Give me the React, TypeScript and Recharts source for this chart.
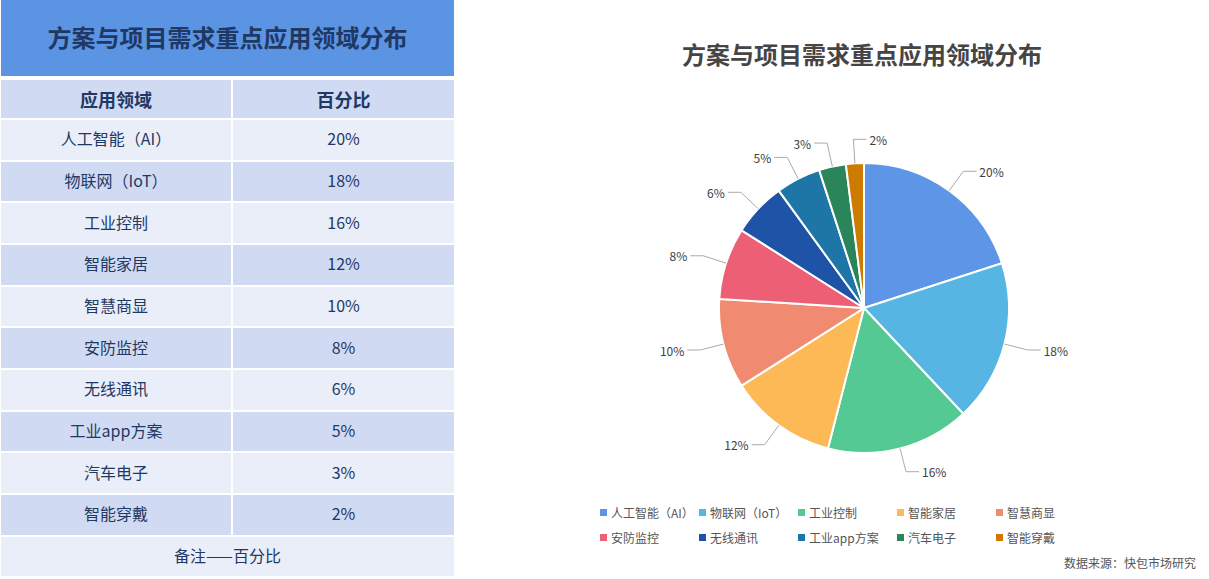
import React from "react";
import { PieChart, Pie, Cell, Legend } from "recharts";

const TITLE = "方案与项目需求重点应用领域分布";
const TABLE_HEAD = ["应用领域", "百分比"];
const FOOTNOTE = "备注——百分比";
const SOURCE = "数据来源：快包市场研究";

const FIELDS = [
  "人工智能（AI）",
  "物联网（IoT）",
  "工业控制",
  "智能家居",
  "智慧商显",
  "安防监控",
  "无线通讯",
  "工业app方案",
  "汽车电子",
  "智能穿戴",
];
const SHARES = [20, 18, 16, 12, 10, 8, 6, 5, 3, 2];
const COLORS = [
  "#5d96e6",
  "#57b5e4",
  "#55c994",
  "#fdb955",
  "#f08a71",
  "#ec5f74",
  "#1e53a8",
  "#1d76a6",
  "#2a855a",
  "#cc7a00",
];

const FONT = '"Noto Sans CJK SC", "Noto Sans", sans-serif';
const NAVY = "#1f3864";
const ROW_LIGHT = "#e9eef9";
const ROW_DARK = "#d0dbf3";
const RAD = Math.PI / 180;

const pieData = FIELDS.map((name, i) => ({ name, value: SHARES[i] }));

function labelGeom(p: any) {
  const a = p.midAngle;
  const cos = Math.cos(-a * RAD);
  const sin = Math.sin(-a * RAD);
  const right = cos > -0.1;
  const r0 = p.outerRadius;
  const r1 = p.outerRadius + 24;
  const x0 = p.cx + r0 * cos;
  const y0 = p.cy + r0 * sin;
  const x1 = p.cx + r1 * cos;
  const y1 = p.cy + r1 * sin;
  const x2 = x1 + (right ? 13 : -13);
  return { x0, y0, x1, y1, x2, right };
}

function renderLabelLine(p: any) {
  const g = labelGeom(p);
  return (
    <path
      d={`M${g.x0},${g.y0}L${g.x1},${g.y1}L${g.x2},${g.y1}`}
      stroke="#aaaaaa"
      strokeWidth={1}
      fill="none"
    />
  );
}

function renderLabel(p: any) {
  const g = labelGeom(p);
  return (
    <text
      x={g.x2 + (g.right ? 3 : -3)}
      y={g.y1}
      textAnchor={g.right ? "start" : "end"}
      dominantBaseline="central"
      fill="#404040"
      fontSize={12}
      fontFamily={FONT}
    >
      {`${p.value}%`}
    </text>
  );
}

function renderLegend(props: any) {
  const payload = [...(props.payload || [])].sort(
    (a: any, b: any) => FIELDS.indexOf(a.value) - FIELDS.indexOf(b.value)
  );
  return (
    <div
      style={{
        display: "grid",
        gridTemplateColumns: "repeat(5, 99px)",
        rowGap: 8,
        fontFamily: FONT,
        fontSize: 12,
        color: "#555555",
      }}
    >
      {payload.map((item: any) => (
        <div key={item.value} style={{ display: "flex", alignItems: "center", height: 17, whiteSpace: "nowrap" }}>
          <span style={{ width: 7, height: 7, background: item.color, marginRight: 4, flexShrink: 0 }} />
          <span>{item.value}</span>
        </div>
      ))}
    </div>
  );
}

function DataTable() {
  const cell: React.CSSProperties = {
    display: "flex",
    alignItems: "center",
    justifyContent: "center",
    color: NAVY,
    fontSize: 16,
  };
  return (
    <div style={{ position: "absolute", left: 1, top: 0, width: 453, fontFamily: FONT }}>
      <div
        style={{
          height: 76,
          background: "#5c94e4",
          display: "flex",
          alignItems: "center",
          justifyContent: "center",
          color: NAVY,
          fontWeight: 700,
          fontSize: 24,
          paddingBottom: 4,
          boxSizing: "border-box",
        }}
      >
        {TITLE}
      </div>
      <div
        style={{
          marginTop: 4,
          display: "grid",
          gridTemplateColumns: "230px 221px",
          gridTemplateRows: "38px",
          gridAutoRows: "39.67px",
          gap: 2,
        }}
      >
        {TABLE_HEAD.map((h) => (
          <div key={h} style={{ ...cell, background: ROW_DARK, fontWeight: 700, fontSize: 18 }}>
            {h}
          </div>
        ))}
        {FIELDS.map((f, i) => {
          const bg = i % 2 === 0 ? ROW_LIGHT : ROW_DARK;
          return (
            <React.Fragment key={f}>
              <div style={{ ...cell, background: bg, paddingBottom: 3 }}>{f}</div>
              <div style={{ ...cell, background: bg, paddingBottom: 3 }}>{`${SHARES[i]}%`}</div>
            </React.Fragment>
          );
        })}
        <div style={{ ...cell, background: ROW_LIGHT, gridColumn: "1 / span 2", paddingBottom: 3 }}>{FOOTNOTE}</div>
      </div>
    </div>
  );
}

export default function App() {
  return (
    <div style={{ position: "absolute", left: 0, top: 0, width: 1209, height: 579, background: "#ffffff" }}>
      <DataTable />
      <div style={{ position: "absolute", left: 455, top: 0, width: 754, height: 579 }}>
        <div
          style={{
            position: "absolute",
            left: 0,
            top: 36,
            width: 814,
            textAlign: "center",
            fontFamily: FONT,
            fontWeight: 700,
            fontSize: 24,
            color: "#454545",
          }}
        >
          {TITLE}
        </div>
        <PieChart width={754} height={579} margin={{ top: 0, right: 0, bottom: 0, left: 0 }}>
          <Pie
            data={pieData}
            dataKey="value"
            nameKey="name"
            cx={409}
            cy={308}
            outerRadius={145}
            startAngle={90}
            endAngle={-270}
            stroke="#ffffff"
            strokeWidth={2}
            label={renderLabel}
            labelLine={renderLabelLine}
            isAnimationActive={false}
          >
            {pieData.map((d, i) => (
              <Cell key={d.name} fill={COLORS[i]} />
            ))}
          </Pie>
          <Legend
            content={renderLegend}
            wrapperStyle={{ position: "absolute", left: 145, top: 504, width: 500, height: 50 }}
          />
        </PieChart>
        <div
          style={{
            position: "absolute",
            right: 13,
            top: 554,
            fontFamily: FONT,
            fontSize: 12,
            color: "#555555",
          }}
        >
          {SOURCE}
        </div>
      </div>
    </div>
  );
}
